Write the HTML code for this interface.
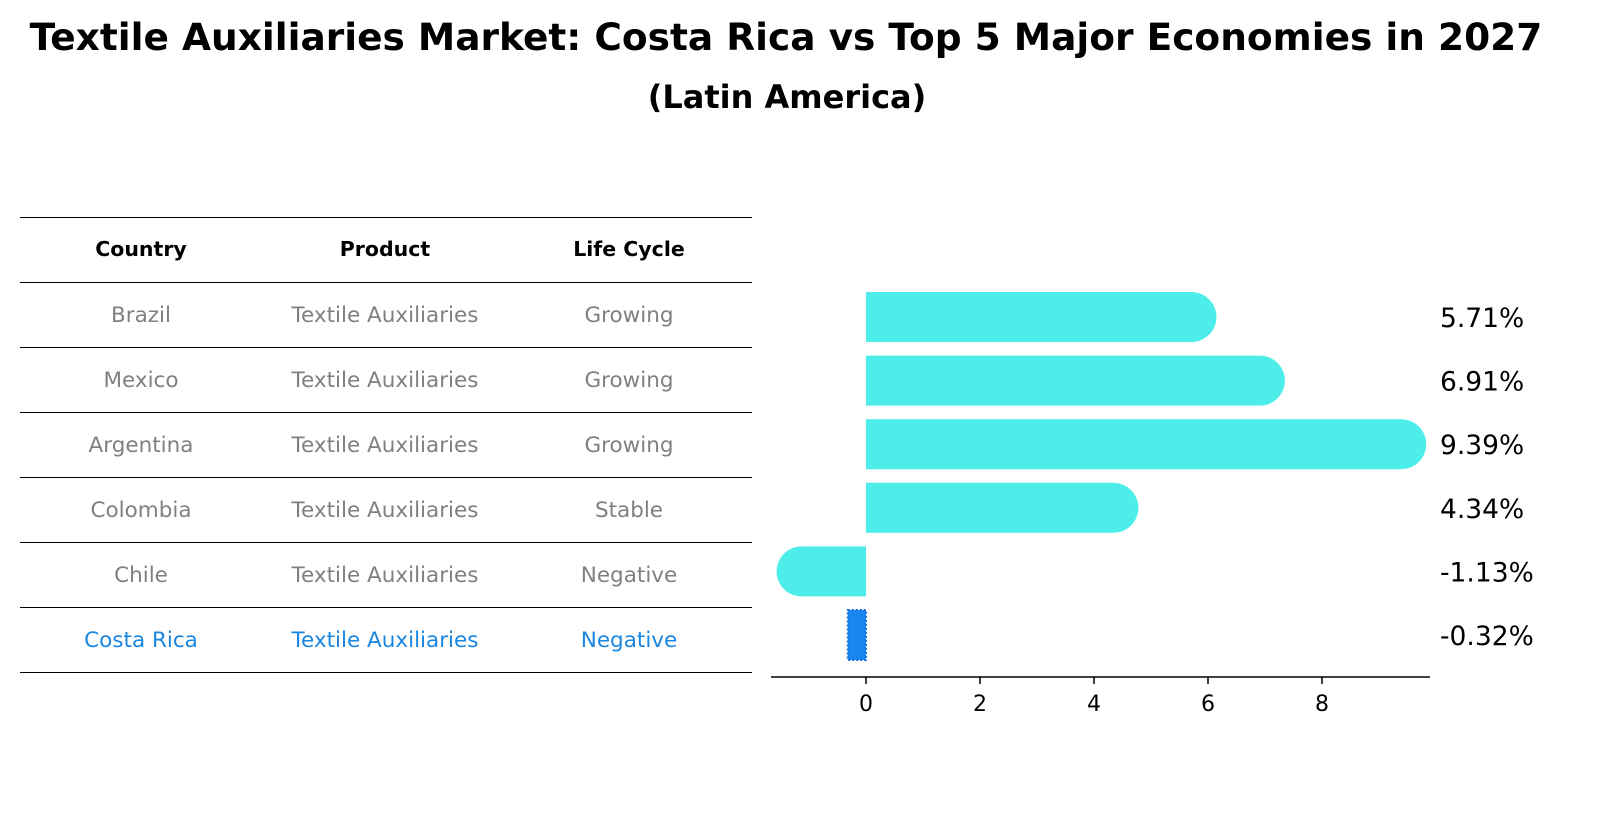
<!DOCTYPE html>
<html><head><meta charset="utf-8"><style>
body{margin:0;background:#fff;font-family:"Liberation Sans","DejaVu Sans",sans-serif;}
</style></head><body>
<svg width="1610" height="823" xmlns="http://www.w3.org/2000/svg" style="font-family:'DejaVu Sans','Liberation Sans',sans-serif">
<text x="786" y="50" text-anchor="middle" font-size="37.5" font-weight="bold">Textile Auxiliaries Market: Costa Rica vs Top 5 Major Economies in 2027</text>
<text x="787" y="108" text-anchor="middle" font-size="32" font-weight="bold">(Latin America)</text>
<g id="table"></g>
<g id="bars"></g>
</svg>
<script>
const countries=["Brazil","Mexico","Argentina","Colombia","Chile","Costa Rica"];
const products=["Textile Auxiliaries","Textile Auxiliaries","Textile Auxiliaries","Textile Auxiliaries","Textile Auxiliaries","Textile Auxiliaries"];
const lifeCycles=["Growing","Growing","Growing","Stable","Negative","Negative"];
const values=[5.71,6.91,9.39,4.34,-1.13,-0.32];
const valueLabels=["5.71%","6.91%","9.39%","4.34%","-1.13%","-0.32%"];
const ticks=[0,2,4,6,8];
const NS="http://www.w3.org/2000/svg";
function mk(p,t,a,txt){const e=document.createElementNS(NS,t);for(const k in a)e.setAttribute(k,a[k]);if(txt!=null)e.textContent=txt;p.appendChild(e);return e;}
const tb=document.getElementById('table');
const colX=[141,385,629];
const rowY=i=>217+65*i;
for(let i=0;i<=countries.length+1;i++){const l=mk(tb,'line',{x1:20,x2:752,y1:rowY(i)+0.5,y2:rowY(i)+0.5,stroke:'#000','stroke-width':1,'shape-rendering':'crispEdges'});

}
["Country","Product","Life Cycle"].forEach((h,j)=>{const t=mk(tb,'text',{x:colX[j],y:rowY(0)+39,'text-anchor':'middle','font-size':20.5,'font-weight':'bold'},h);

});
countries.forEach((c,i)=>{const col=i===countries.length-1?'#1a86e0':'#808080';
[c,products[i],lifeCycles[i]].forEach((v,j)=>{const t=mk(tb,'text',{x:colX[j],y:rowY(i+1)+40,'text-anchor':'middle','font-size':21.5,fill:col},v);

});});
const g=document.getElementById('bars');
const x0=866,sc=57;const X=v=>x0+v*sc;
const Y=i=>317+63.6*i;const h=50,r=25;
values.forEach((v,i)=>{let el;const yc=Y(i);
if(i===values.length-1){el=mk(g,'rect',{x:Math.min(X(v),x0),y:yc-h/2,width:Math.abs(X(v)-x0),height:h,fill:'#1a86f0',stroke:'#1a6ee0','stroke-width':2,'stroke-dasharray':'2 2'});}
else{const e=X(v);let d;
if(v>=0)d=`M${x0},${yc-h/2}H${e}A${r},${r} 0 0 1 ${e},${yc+h/2}H${x0}Z`;
else d=`M${x0},${yc-h/2}H${e}A${r},${r} 0 0 0 ${e},${yc+h/2}H${x0}Z`;
el=mk(g,'path',{d:d,fill:'#4deeea'});}


const t=mk(g,'text',{x:1440,y:yc+10,'font-size':26.5},valueLabels[i]);

});
const ax=mk(g,'line',{x1:771,x2:1430,y1:677,y2:677,stroke:'#000','stroke-width':1.5});


ticks.forEach(tk=>{const l=mk(g,'line',{x1:X(tk),x2:X(tk),y1:677,y2:684,stroke:'#000','stroke-width':1.5});


const t=mk(g,'text',{x:X(tk),y:711,'text-anchor':'middle','font-size':22},tk);

});
</script>
</body></html>
